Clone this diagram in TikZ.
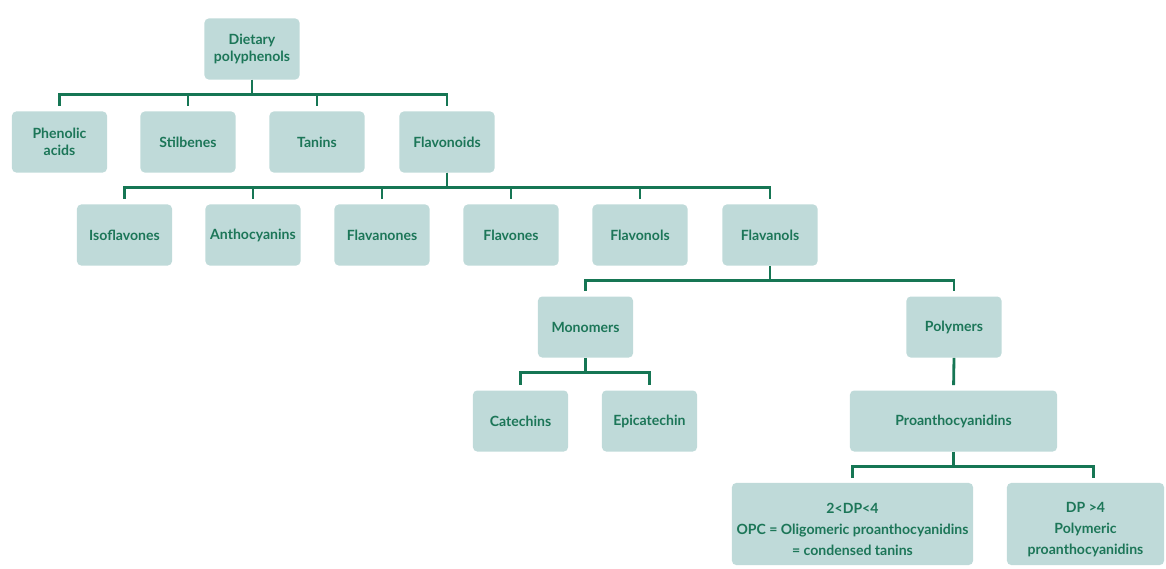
\documentclass[tikz,border=0pt]{standalone}
\usepackage{fontspec}
\setmainfont{Lato}
\usetikzlibrary{positioning}

\definecolor{boxfill}{RGB}{191,218,217}
\definecolor{boxtext}{RGB}{28,118,88}
\definecolor{treeline}{RGB}{22,118,84}

\newcommand{\toppad}{\rule{0pt}{15pt}}

\begin{document}
\begin{tikzpicture}[
    x=0.025cm, y=-0.025cm,
    box/.style={
      rectangle,
      rounded corners=3pt,
      fill=boxfill,
      text=boxtext,
      align=center,
      inner sep=2pt,
      font=\bfseries\fontsize{10}{12.5}\selectfont,
      minimum width=2.375cm,
      minimum height=1.525cm
    },
    wide-box/.style={
      box,
      minimum height=2.05cm,
      font=\bfseries\fontsize{10}{14.8}\selectfont
    },
    tree/.style={
      draw=treeline,
      line width=2pt,
      shorten >=0.125cm,
      to path={(\tikztostart) -- ++(0,15) -| (\tikztotarget)}
    },
  ]
  \useasboundingbox (0,0) rectangle (1166,568);

  %%%%%%%%%%%%%%%%%%%%%%%%%%%%%%%%%%%%%%%%%%%%%%
  %%%%%%%%%%%%%%%% ACTUAL NODES %%%%%%%%%%%%%%%%%%%
  %%%%%%%%%%%%%%%%%%%%%%%%%%%%%%%%%%%%%%%%%%%%%%
    \node[box] (dietary) at (252,49) {Dietary\\polyphenols};

    \node[box] (phenolic) at (59.5,142) {Phenolic\\acids};
    \node[box] (stilbenes) at (188,142) {Stilbenes};
    \node[box] (tanins) at (317,142) {Tanins};
    \node[box] (flavonoids) at (447,142) {Flavonoids};

    \node[box] (isoflavones) at (124.5,235) {Isoflavones};
    \node[box] (anthocyanins) at (253,235) {Anthocyanins};
    \node[box] (flavanones) at (382,235) {Flavanones};
    \node[box] (flavones) at (511,235) {Flavones};
    \node[box] (flavonols) at (640,235) {Flavonols};
    \node[box] (flavanols) at (770,235) {Flavanols};

    \node[box] (monomers) at (585.5,327) {Monomers};
    \node[box] (polymers) at (954,327) {Polymers};

    \node[box] (catechins) at (520.5,421) {Catechins};
    \node[box] (epicatechin) at (649.5,421) {Epicatechin};
    \node[box, minimum width=5.175cm] (proantho) at (953.5,421) {Proanthocyanidins};

    \node[wide-box, minimum width=6.025cm] (oligomeric) at (852.5,524)
      {\toppad 2<DP<4\\OPC = Oligomeric proanthocyanidins\\= condensed tanins};
    \node[wide-box, minimum width=3.925cm] (polymeric) at (1085.5,524)
      {\toppad DP >4\\Polymeric\\proanthocyanidins};

  %%%%%%%%%%%%%%%%%%%%%%%%%%%%%%%%%%%%%%%%%%%%%%
  %%%%%%%%%%%%%%%%%% PATHS %%%%%%%%%%%%%%%%%%%%%%%
  %%%%%%%%%%%%%%%%%%%%%%%%%%%%%%%%%%%%%%%%%%%%%%
    \foreach \child in {phenolic,stilbenes,tanins,flavonoids}
      \path[tree] (dietary.south) to (\child.north);

    \foreach \child in {isoflavones,anthocyanins,flavanones,flavones,flavonols,flavanols}
      \path[tree] (flavonoids.south) to (\child.north);

    \path[tree] (flavanols.south) to (monomers.north);
    \path[tree] (flavanols.south) to (polymers.north);

    \path[tree] (monomers.south) to (catechins.north);
    \path[tree] (monomers.south) to (epicatechin.north);

    \path[draw=treeline, line width=2pt, shorten >=0.125cm] (polymers.south) -- (proantho.north);

    \path[tree] (proantho.south) to (oligomeric.north);
    \path[tree] (proantho.south) to ([xshift=0.19cm]polymeric.north);

\end{tikzpicture}
\end{document}
